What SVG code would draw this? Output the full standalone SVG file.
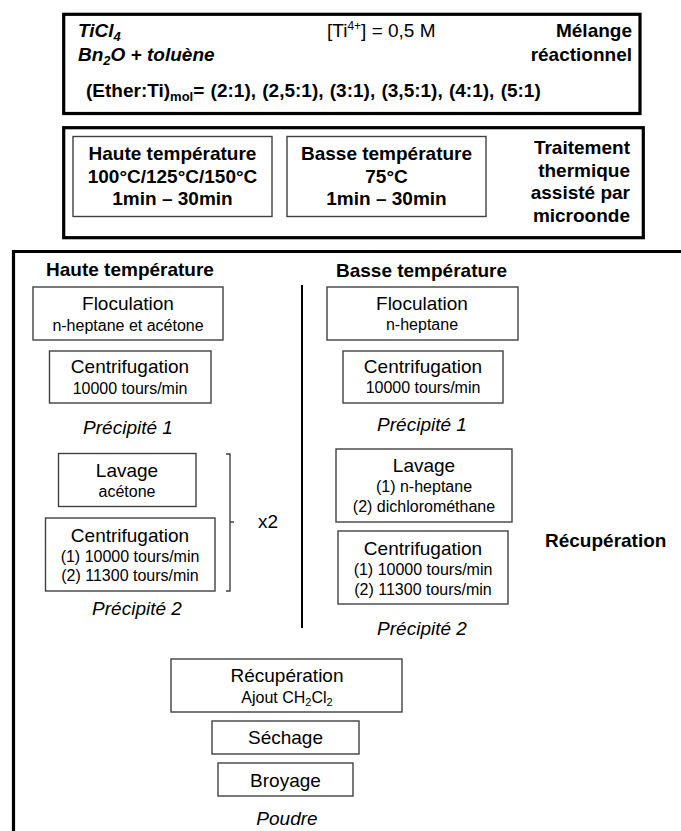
<svg xmlns="http://www.w3.org/2000/svg" width="681" height="831" viewBox="0 0 681 831">
<style>
text{font-family:"Liberation Sans",Arial,sans-serif;fill:#000}
.b{font-weight:bold}
.bi{font-weight:bold;font-style:italic}
.i{font-style:italic}
.t{font-size:19px}
.s{font-size:16px}
.c{text-anchor:middle}
.r{text-anchor:end}
.frame{fill:none;stroke:#000;stroke-width:3.2}
.node{fill:#fff;stroke:#404040;stroke-width:1.4}
.line{fill:none;stroke:#000;stroke-width:2}
.brk{fill:none;stroke:#404040;stroke-width:1.4}
</style>
<rect width="681" height="831" fill="#fff"/>

<g id="melange">
<rect class="frame" x="63.7" y="14.3" width="576.3" height="99.2"/>
<text class="bi t" x="78" y="37">TiCl<tspan font-size="13" dy="4">4</tspan></text>
<text class="bi t" x="78" y="61">Bn<tspan font-size="13" dy="4">2</tspan><tspan dy="-4">O + toluène</tspan></text>
<text class="t" x="327" y="37">[Ti<tspan font-size="12" dy="-7">4+</tspan><tspan dy="7">] = 0,5 M</tspan></text>
<text class="b t r" x="632" y="37">Mélange</text>
<text class="b t r" x="632" y="61">réactionnel</text>
<text class="b t" x="86" y="97" word-spacing="1">(Ether:Ti)<tspan font-size="13" dy="4">mol</tspan><tspan dy="-4">= (2:1), (2,5:1), (3:1), (3,5:1), (4:1), (5:1)</tspan></text>
</g>

<g id="traitement">
<rect class="frame" x="63.7" y="127.7" width="579.6" height="110"/>
<text class="b t r" x="630" y="154">Traitement</text>
<text class="b t r" x="630" y="177">thermique</text>
<text class="b t r" x="630" y="199">assisté par</text>
<text class="b t r" x="630" y="222">microonde</text>
</g>

<g id="ht-mw">
<rect class="node" x="73" y="136.5" width="199" height="80"/>
<text class="b t c" x="172.5" y="160">Haute température</text>
<text class="b t c" x="172.5" y="183">100°C/125°C/150°C</text>
<text class="b t c" x="172.5" y="205">1min – 30min</text>
</g>

<g id="bt-mw">
<rect class="node" x="287" y="136.5" width="199" height="80"/>
<text class="b t c" x="386.5" y="160">Basse température</text>
<text class="b t c" x="386.5" y="183">75°C</text>
<text class="b t c" x="386.5" y="205">1min – 30min</text>
</g>

<g id="recuperation-frame">
<path class="frame" d="M13.5,831 V251.5 H681"/>
<text class="b t c" x="130" y="276">Haute température</text>
<text class="b t c" x="421.5" y="277">Basse température</text>
<text class="b t" x="545" y="547">Récupération</text>
</g>

<g id="connectors">
<line class="line" x1="302" y1="285" x2="302" y2="628"/>
<path class="brk" d="M226,454 H230 V591 H226 M230,522 H234"/>
</g>

<g id="ht-floculation">
<rect class="node" x="33" y="287" width="190" height="53"/>
<text class="t c" x="128" y="310">Floculation</text>
<text class="s c" x="128" y="331">n-heptane et acétone</text>
</g>
<g id="ht-centrifugation1">
<rect class="node" x="49.5" y="351" width="161.5" height="52"/>
<text class="t c" x="130" y="373">Centrifugation</text>
<text class="s c" x="130" y="394">10000 tours/min</text>
</g>
<text class="i t c" x="128" y="434">Précipité 1</text>
<g id="ht-lavage">
<rect class="node" x="58.5" y="453.5" width="137.5" height="53"/>
<text class="t c" x="127" y="477">Lavage</text>
<text class="s c" x="127" y="497">acétone</text>
</g>
<g id="ht-centrifugation2">
<rect class="node" x="45.5" y="518" width="169.5" height="73"/>
<text class="t c" x="130" y="542">Centrifugation</text>
<text class="s c" x="130" y="562">(1) 10000 tours/min</text>
<text class="s c" x="130" y="581">(2) 11300 tours/min</text>
</g>
<text class="t" x="258" y="528">x2</text>
<text class="i t c" x="137" y="615">Précipité 2</text>

<g id="bt-floculation">
<rect class="node" x="327" y="287" width="191" height="53"/>
<text class="t c" x="422" y="310">Floculation</text>
<text class="s c" x="422" y="330">n-heptane</text>
</g>
<g id="bt-centrifugation1">
<rect class="node" x="343" y="351" width="160" height="52"/>
<text class="t c" x="423" y="373">Centrifugation</text>
<text class="s c" x="423" y="393">10000 tours/min</text>
</g>
<text class="i t c" x="422" y="431">Précipité 1</text>
<g id="bt-lavage">
<rect class="node" x="336" y="449" width="176" height="73"/>
<text class="t c" x="424" y="472">Lavage</text>
<text class="s c" x="424" y="492">(1) n-heptane</text>
<text class="s c" x="424" y="512">(2) dichlorométhane</text>
</g>
<g id="bt-centrifugation2">
<rect class="node" x="338" y="531" width="170" height="73"/>
<text class="t c" x="423" y="555">Centrifugation</text>
<text class="s c" x="423" y="575">(1) 10000 tours/min</text>
<text class="s c" x="423" y="595">(2) 11300 tours/min</text>
</g>
<text class="i t c" x="422" y="635">Précipité 2</text>

<g id="recuperation">
<rect class="node" x="171" y="659" width="231" height="53"/>
<text class="t c" x="287" y="682">Récupération</text>
<text class="s c" x="287" y="703">Ajout CH<tspan font-size="11" dy="3">2</tspan><tspan dy="-3">Cl</tspan><tspan font-size="11" dy="3">2</tspan></text>
</g>
<g id="sechage">
<rect class="node" x="212" y="721" width="147" height="33"/>
<text class="t c" x="285.5" y="744">Séchage</text>
</g>
<g id="broyage">
<rect class="node" x="218" y="763" width="135" height="33"/>
<text class="t c" x="285.5" y="787">Broyage</text>
</g>
<text class="i t c" x="287" y="825">Poudre</text>
</svg>
